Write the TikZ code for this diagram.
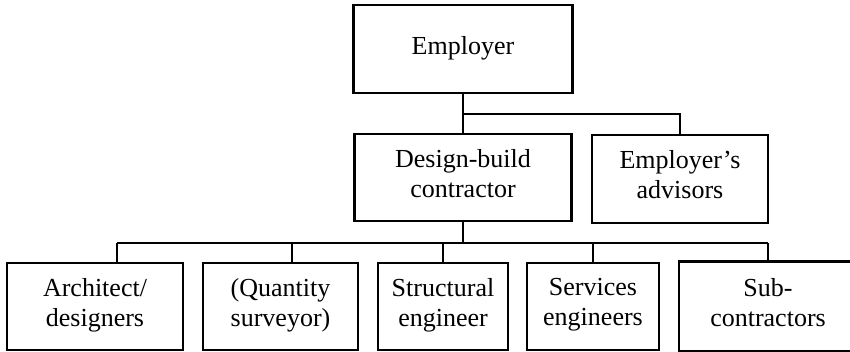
\documentclass[tikz,border=0pt]{standalone}
\usepackage{fontspec}
\setmainfont{Liberation Serif}
\begin{document}
\begin{tikzpicture}[x=1pt,y=1pt,line width=2.5pt,
    party/.style={draw,rectangle,inner sep=0pt,minimum height=87pt,align=center,
        font=\fontsize{26}{30}\selectfont,execute at end node=\strut}]

    \useasboundingbox (0,0) rectangle (850,352);

    %top level:
    \node[party,minimum width=219pt,minimum height=88pt] (emp) at (463,303) {Employer};
    \node[party,minimum width=217pt] (dbc) at (463,174.5) {Design-build\\contractor};
    \node[party,minimum width=176pt,minimum height=88pt] (adv) at (680,173) {Employer's\\advisors};

    %bottom level:
    \node[party,minimum width=176pt] (arch) at (95,45.5) {Architect/\\designers};
    \node[party,minimum width=155pt] (qs) at (280.5,45.5) {(Quantity\\surveyor)};
    \node[party,minimum width=130pt] (str) at (443,45.5) {Structural\\engineer};
    \node[party,minimum width=132pt] (serv) at (593,45.5) {Services\\engineers};
    \node[party,draw=none,minimum width=176pt] (sub) at (768,45.5) {Sub-\\contractors};
    %cut off at the page edge:
    \draw (sub.north east) -- (sub.north west) -- (sub.south west) -- (sub.south east);

    %draw upper links:
    \coordinate (upbus) at (463,238);
    \draw (emp.south) -- (dbc.north);
    \draw (upbus) -| (adv.north);

    %draw lower links:
    \coordinate (busL) at (117,109);
    \coordinate (qsdrop) at (292,109);
    \draw (busL) -- (busL -| sub.north);
    \draw (dbc.south) -- (dbc.south |- busL);
    \draw (busL) -- (busL |- arch.north);
    \draw (qsdrop) -- (qsdrop |- qs.north);
    \draw (str.north) -- (str.north |- busL);
    \draw (serv.north) -- (serv.north |- busL);
    \draw (sub.north) -- (sub.north |- busL);

\end{tikzpicture}
\end{document}
